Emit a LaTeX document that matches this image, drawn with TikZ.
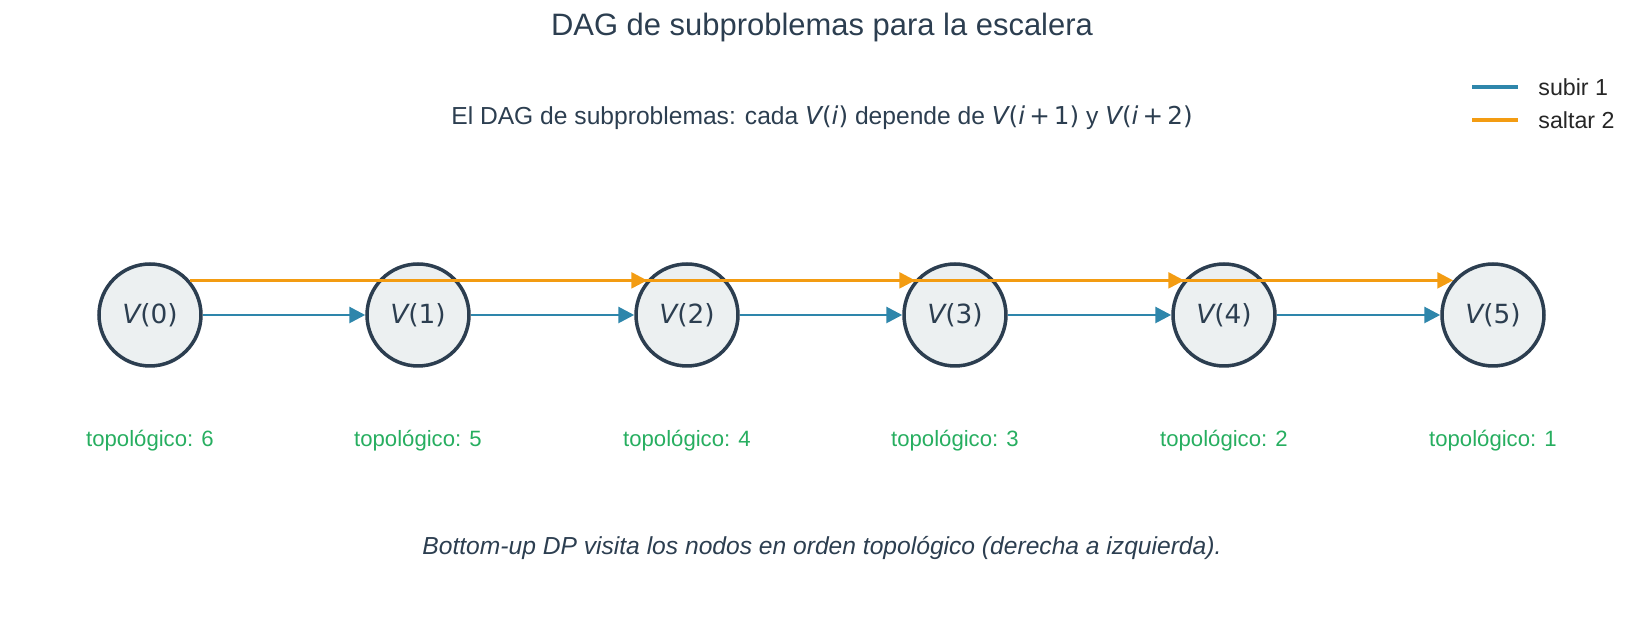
\documentclass[tikz,border=0pt]{standalone}
\usepackage{fontspec}
\setmainfont{Liberation Sans}
\newfontfamily\dv{DejaVu Sans}
\usetikzlibrary{arrows.meta}
\definecolor{dark}{HTML}{2C3E50}
\definecolor{nfill}{HTML}{ECF0F1}
\definecolor{cblue}{HTML}{2E86AB}
\definecolor{corange}{HTML}{F39C12}
\definecolor{cgreen}{HTML}{27AE60}
\newcommand{\vv}[1]{{\dv\itshape V}{\dv(#1)}}
\newcommand{\vexp}[1]{{\dv{\itshape V}(\itshape i\upshape\,+\,#1)}}
\tikzset{
 vnode/.style={circle,draw=dark,fill=nfill,line width=1pt,minimum size=29pt,inner sep=0pt,text=dark,font=\fontsize{7.5}{9}\selectfont},
 up/.style={draw=cblue,line width=0.8pt,-{Triangle[length=4.5pt,width=4.5pt]}},
 jump/.style={draw=corange,line width=0.8pt,-{Triangle[length=4.5pt,width=4.5pt]}},
 topo/.style={text=cgreen,font=\fontsize{6.3}{8}\selectfont},
}
\begin{document}
\begin{tikzpicture}[x=0.01cm,y=-0.01cm]
\useasboundingbox (0,0) rectangle (1644,640);
\node[text=dark,font=\fontsize{8.8}{10}\selectfont] (title) at (822,28) {DAG de subproblemas para la escalera};
\node[text=dark,font=\fontsize{7}{9}\selectfont] (sub) at (822,118) {El DAG de subproblemas: cada {\dv{\itshape V}(\itshape i\upshape)} depende de \vexp{1} y \vexp{2}};
\foreach \i/\x in {0/150,1/418,2/687,3/955,4/1224,5/1493}{
  \node[vnode] (V\i) at (\x,315) {\vv{\i}};
  \node[topo] (T\i) at (\x,441) {topológico: \the\numexpr6-\i\relax};
}
\foreach \a/\b in {0/1,1/2,2/3,3/4,4/5} \draw[up] (V\a) -- (V\b);
\foreach \a/\b in {0/2,1/3,2/4,3/5} \draw[jump] (V\a.41) -- (V\b.139);
\node[text=dark,font=\fontsize{7}{9}\selectfont\itshape] (foot) at (822,548) {Bottom-up DP visita los nodos en orden topológico (derecha a izquierda).};
\coordinate (l1a) at (1472,87); \coordinate (l1b) at (1518,87);
\coordinate (l2a) at (1472,120); \coordinate (l2b) at (1518,120);
\draw[cblue,line width=1.1pt] (l1a) -- (l1b);
\draw[corange,line width=1.1pt] (l2a) -- (l2b);
\node[anchor=west,text=black!85,font=\fontsize{6.6}{8}\selectfont] (lt1) at (1526,87) {subir 1};
\node[anchor=west,text=black!85,font=\fontsize{6.6}{8}\selectfont] (lt2) at (1526,120) {saltar 2};
\end{tikzpicture}
\end{document}
